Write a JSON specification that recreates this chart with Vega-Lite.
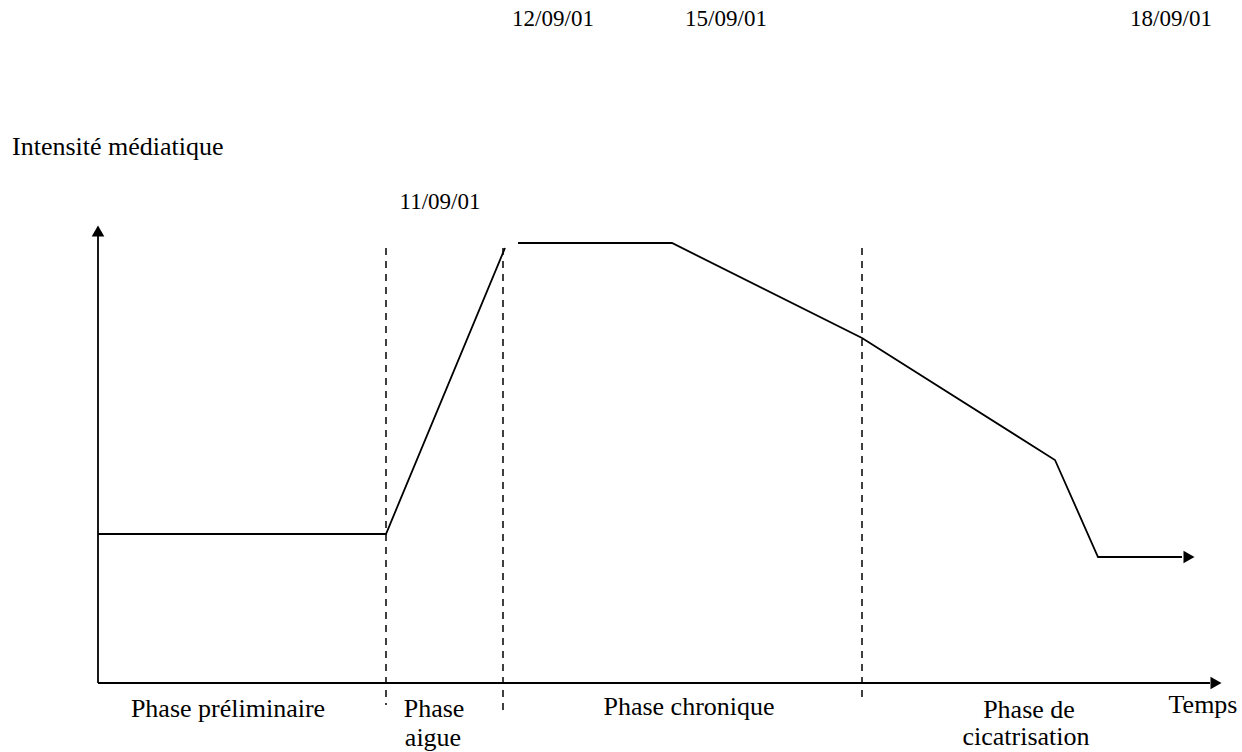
{
  "$schema": "https://vega.github.io/schema/vega-lite/v6.json",
  "width": 1242,
  "height": 752,
  "autosize": {"type": "fit", "contains": "padding"},
  "padding": 0,
  "background": "white",
  "config": {"view": {"stroke": null}},
  "datasets": {
    "lines": [
      {"s": "yaxis", "o": 1, "t": 98, "v": 69},
      {"s": "yaxis", "o": 2, "t": 98, "v": 516},
      {"s": "xaxis", "o": 1, "t": 98, "v": 69},
      {"s": "xaxis", "o": 2, "t": 1210, "v": 69},
      {"s": "c1", "o": 1, "t": 98, "v": 218},
      {"s": "c1", "o": 2, "t": 386, "v": 218},
      {"s": "c1", "o": 3, "t": 505, "v": 504},
      {"s": "c2", "o": 1, "t": 518, "v": 509},
      {"s": "c2", "o": 2, "t": 672, "v": 509},
      {"s": "c2", "o": 3, "t": 862, "v": 414},
      {"s": "c2", "o": 4, "t": 1055, "v": 292},
      {"s": "c2", "o": 5, "t": 1098, "v": 195},
      {"s": "c2", "o": 6, "t": 1182, "v": 195}
    ],
    "arrows": [
      {"t": 98, "v": 521, "shape": "triangle-up"},
      {"t": 1216, "v": 69, "shape": "triangle-right"},
      {"t": 1189, "v": 195, "shape": "triangle-right"}
    ],
    "dashes": [
      {"t": 386, "v": 504, "v2": 47},
      {"t": 503, "v": 504, "v2": 40},
      {"t": 862, "v": 504, "v2": 52}
    ],
    "labels": [
      {"t": 553, "v": 726, "label": "12/09/01", "fs": 23},
      {"t": 726, "v": 726, "label": "15/09/01", "fs": 23},
      {"t": 1171, "v": 726, "label": "18/09/01", "fs": 23},
      {"t": 440, "v": 543, "label": "11/09/01", "fs": 23},
      {"t": 228, "v": 35, "label": "Phase préliminaire", "fs": 26},
      {"t": 434, "v": 35, "label": "Phase", "fs": 26},
      {"t": 433, "v": 6, "label": "aigue", "fs": 26},
      {"t": 689, "v": 37, "label": "Phase chronique", "fs": 26},
      {"t": 1029, "v": 34, "label": "Phase de", "fs": 26},
      {"t": 1026, "v": 7, "label": "cicatrisation", "fs": 26},
      {"t": 1203, "v": 39, "label": "Temps", "fs": 26}
    ],
    "leftlabels": [
      {"t": 12, "v": 597, "label": "Intensité médiatique"}
    ]
  },
  "layer": [
    {
      "data": {"name": "dashes"},
      "mark": {"type": "rule", "strokeDash": [7, 6], "strokeWidth": 1.5, "color": "black"},
      "encoding": {
        "x": {"field": "t", "type": "quantitative", "scale": {"domain": [0, 1242]}, "axis": null},
        "y": {"field": "v", "type": "quantitative", "scale": {"domain": [0, 752]}, "axis": null},
        "y2": {"field": "v2"}
      }
    },
    {
      "data": {"name": "lines"},
      "mark": {"type": "line", "color": "black", "strokeWidth": 1.8},
      "encoding": {
        "x": {"field": "t", "type": "quantitative", "scale": {"domain": [0, 1242]}, "axis": null},
        "y": {"field": "v", "type": "quantitative", "scale": {"domain": [0, 752]}, "axis": null},
        "detail": {"field": "s"},
        "order": {"field": "o"}
      }
    },
    {
      "data": {"name": "arrows"},
      "mark": {"type": "point", "filled": true, "color": "black", "opacity": 1, "size": 160},
      "encoding": {
        "x": {"field": "t", "type": "quantitative", "scale": {"domain": [0, 1242]}, "axis": null},
        "y": {"field": "v", "type": "quantitative", "scale": {"domain": [0, 752]}, "axis": null},
        "shape": {"field": "shape", "type": "nominal", "scale": null}
      }
    },
    {
      "data": {"name": "labels"},
      "mark": {"type": "text", "font": "Liberation Serif", "align": "center", "baseline": "alphabetic", "color": "black"},
      "encoding": {
        "x": {"field": "t", "type": "quantitative", "scale": {"domain": [0, 1242]}, "axis": null},
        "y": {"field": "v", "type": "quantitative", "scale": {"domain": [0, 752]}, "axis": null},
        "size": {"field": "fs", "type": "quantitative", "scale": null, "legend": null},
        "text": {"field": "label"}
      }
    },
    {
      "data": {"name": "leftlabels"},
      "mark": {"type": "text", "font": "Liberation Serif", "fontSize": 26, "align": "left", "baseline": "alphabetic", "color": "black"},
      "encoding": {
        "x": {"field": "t", "type": "quantitative", "scale": {"domain": [0, 1242]}, "axis": null},
        "y": {"field": "v", "type": "quantitative", "scale": {"domain": [0, 752]}, "axis": null},
        "text": {"field": "label"}
      }
    }
  ]
}
